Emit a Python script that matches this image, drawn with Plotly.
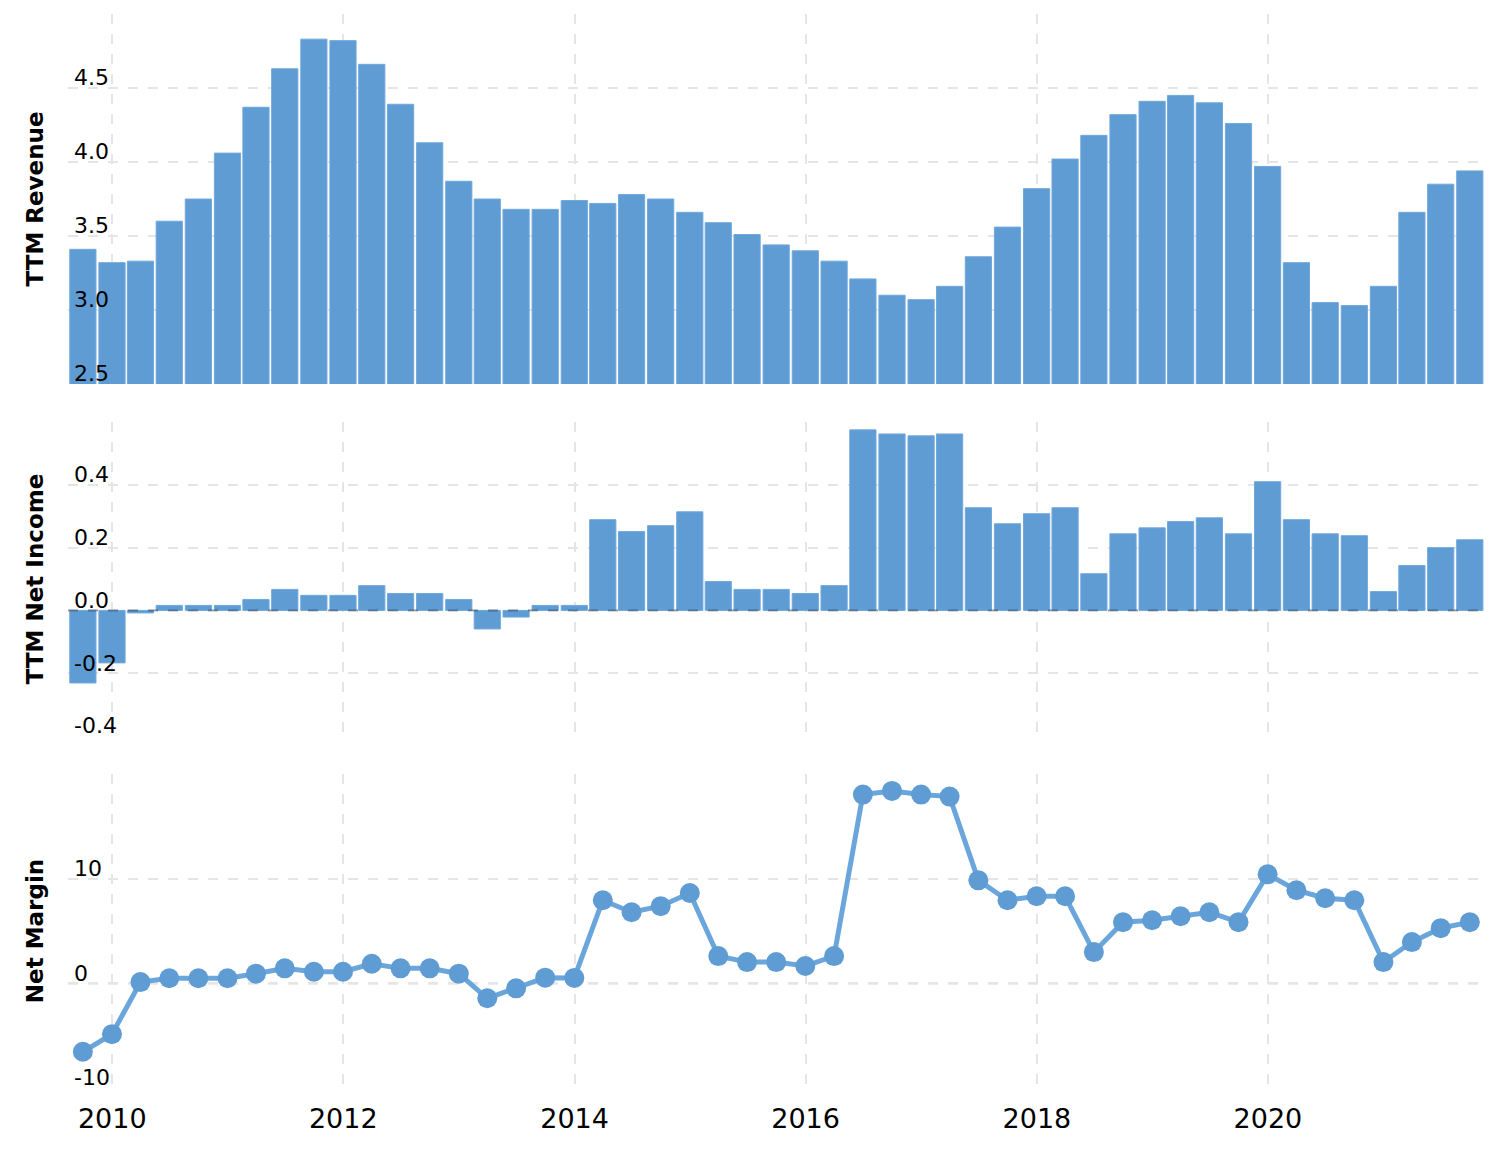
import plotly.graph_objects as go

# === Quarterly data (quarter-end dates)
dates = [
    "2009-09-30", "2009-12-31",
    "2010-03-31", "2010-06-30", "2010-09-30", "2010-12-31",
    "2011-03-31", "2011-06-30", "2011-09-30", "2011-12-31",
    "2012-03-31", "2012-06-30", "2012-09-30", "2012-12-31",
    "2013-03-31", "2013-06-30", "2013-09-30", "2013-12-31",
    "2014-03-31", "2014-06-30", "2014-09-30", "2014-12-31",
    "2015-03-31", "2015-06-30", "2015-09-30", "2015-12-31",
    "2016-03-31", "2016-06-30", "2016-09-30", "2016-12-31",
    "2017-03-31", "2017-06-30", "2017-09-30", "2017-12-31",
    "2018-03-31", "2018-06-30", "2018-09-30", "2018-12-31",
    "2019-03-31", "2019-06-30", "2019-09-30", "2019-12-31",
    "2020-03-31", "2020-06-30", "2020-09-30", "2020-12-31",
    "2021-03-31", "2021-06-30", "2021-09-30",
]

ttm_revenue = [
    3.41, 3.32,
    3.33, 3.60, 3.75, 4.06,
    4.37, 4.63, 4.83, 4.82,
    4.66, 4.39, 4.13, 3.87,
    3.75, 3.68, 3.68, 3.74,
    3.72, 3.78, 3.75, 3.66,
    3.59, 3.51, 3.44, 3.40,
    3.33, 3.21, 3.10, 3.07,
    3.16, 3.36, 3.56, 3.82,
    4.02, 4.18, 4.32, 4.41,
    4.45, 4.40, 4.26, 3.97,
    3.32, 3.05, 3.03, 3.16,
    3.66, 3.85, 3.94,
]

ttm_net_income = [
    -0.231, -0.167,
    -0.008, 0.016, 0.016, 0.016,
    0.035, 0.067, 0.048, 0.048,
    0.079, 0.054, 0.054, 0.035,
    -0.059, -0.021, 0.016, 0.016,
    0.289, 0.251, 0.270, 0.314,
    0.092, 0.067, 0.067, 0.054,
    0.079, 0.575, 0.562, 0.556,
    0.562, 0.327, 0.276, 0.308,
    0.327, 0.117, 0.244, 0.263,
    0.283, 0.295, 0.244, 0.410,
    0.289, 0.244, 0.238, 0.060,
    0.143, 0.200, 0.225,
]

net_margin = [
    -6.54, -4.86,
    0.12, 0.48, 0.48, 0.48,
    0.92, 1.43, 1.11, 1.11,
    1.87, 1.43, 1.43, 0.92,
    -1.43, -0.48, 0.54, 0.52,
    7.94, 6.79, 7.37, 8.63,
    2.60, 2.03, 2.03, 1.65,
    2.60, 18.03, 18.38, 18.03,
    17.84, 9.84, 7.94, 8.32,
    8.32, 2.98, 5.84, 6.03,
    6.41, 6.79, 5.84, 10.41,
    8.89, 8.13, 7.94, 2.03,
    3.94, 5.27, 5.84,
]

rev_ticks = [2.5, 3.0, 3.5, 4.0, 4.5, 5.0]
rev_labels = ["2.5", "3.0", "3.5", "4.0", "4.5", ""]
ni_ticks = [-0.4, -0.2, 0.0, 0.2, 0.4, 0.6]
ni_labels = ["-0.4", "-0.2", "0.0", "0.2", "0.4", ""]
nm_ticks = [-10, 0, 10, 20]
nm_labels = ["-10", "0", "10", ""]

BAR_COLOR = "#5f9cd4"
LINE_COLOR = "#6aa6dc"
GRID = "#e5e5e5"
FONT = "DejaVu Sans"

fig = go.Figure()

fig.add_trace(go.Bar(
    x=dates, y=ttm_revenue, xaxis="x", yaxis="y",
    marker=dict(color=BAR_COLOR, line=dict(color="#70a8dc", width=1)),
))
fig.add_trace(go.Bar(
    x=dates, y=ttm_net_income, xaxis="x2", yaxis="y2",
    marker=dict(color=BAR_COLOR, line=dict(color="#70a8dc", width=1)),
))
fig.add_trace(go.Scatter(
    x=dates, y=net_margin, xaxis="x3", yaxis="y3",
    mode="lines+markers",
    line=dict(color=LINE_COLOR, width=5),
    marker=dict(color=BAR_COLOR, size=20),
))

x_common = dict(
    type="date",
    range=["2009-08-14", "2021-11-17"],
    tick0="2010-01-01", dtick="M24", tickformat="%Y",
    showgrid=True, gridcolor=GRID, gridwidth=2, griddash="10px,10px",
    zeroline=False, showline=False, ticks="",
)
y_common = dict(
    showgrid=True, gridcolor=GRID, gridwidth=2, griddash="10px,10px",
    zeroline=False, showline=False, ticks="",
    ticklabelposition="inside top", ticklabelstandoff=3, ticklabelshift=5,
    ticklabeloverflow="allow",
    tickfont=dict(family=FONT, size=22, color="#000"),
    title_font=dict(family=FONT, size=23, color="#000", weight="bold"),
    title_standoff=23,
)

# Panel domains (bottom, middle, top)
d3 = [0.0, 0.2924]
d2 = [0.3277, 0.6201]
d1 = [0.6555, 1.0]

fig.update_layout(
    width=1492, height=1145,
    margin=dict(l=60, r=15, t=6, b=65),
    paper_bgcolor="white", plot_bgcolor="white",
    showlegend=False, bargap=0.08,
    font=dict(family=FONT, color="#000"),
    xaxis=dict(x_common, anchor="y", showticklabels=False),
    xaxis2=dict(x_common, anchor="y2", matches="x", showticklabels=False),
    xaxis3=dict(x_common, anchor="y3", matches="x", ticklabelstandoff=12,
                tickfont=dict(family=FONT, size=27, color="#000")),
    yaxis=dict(y_common, domain=d1, range=[2.5, 5.0],
               tickvals=rev_ticks, ticktext=rev_labels, title_text="TTM Revenue"),
    yaxis2=dict(y_common, domain=d2, range=[-0.4, 0.6],
                tickvals=ni_ticks, ticktext=ni_labels, title_text="TTM Net Income"),
    yaxis3=dict(y_common, domain=d3, range=[-10, 20],
                tickvals=nm_ticks, ticktext=nm_labels, title_text="Net Margin"),
)

# Dashed zero lines
fig.add_shape(type="line", xref="x2 domain", x0=0, x1=1, yref="y2", y0=0, y1=0,
              line=dict(color="rgba(0,0,0,0.3)", width=2, dash="10px,10px"), layer="above")
fig.add_shape(type="line", xref="x3 domain", x0=0, x1=1, yref="y3", y0=0, y1=0,
              line=dict(color="rgba(0,0,0,0.3)", width=2, dash="10px,10px"), layer="below")

fig.write_html("out.html")
